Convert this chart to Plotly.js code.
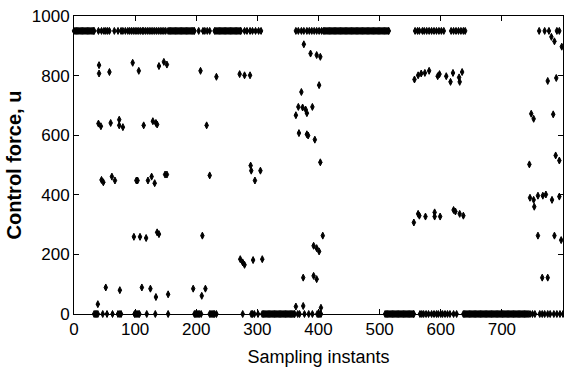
<!DOCTYPE html>
<html>
<head>
<meta charset="utf-8">
<script src="https://cdn.plot.ly/plotly-3.0.1.min.js"></script>
<style>html,body{margin:0;padding:0;background:#fff;}#chart{width:564px;height:378px;}</style>
</head>
<body>
<div id="chart"></div>
<script>
// Upper saturation level and lower level of the control force
const uHigh = 950;
const uLow = 0;

// Sampling instants where u sits at the upper level
const highX = [
  0,2,4,6,8,10,12,14,16,18,20,22,24,26,28,30,32,33,
  40,45,49,52,55,58,66,72,77,80,84,88,91,94,97,100,103,106,109,112,114,117,120,123,126,129,132,135,138,141,144,147,150,
  154,156,158,160,162,164,166,168,170,172,174,176,178,180,182,184,186,188,190,192,194,196,197,
  204,211,214,218,222,
  230,232,234,236,238,240,242,244,246,248,250,252,254,256,258,260,262,264,266,268,270,272,273,
  279,283,288,292,297,302,306,
  363,367,372,376,381,385,389,393,397,401,405,
  408,410,412,414,416,418,420,422,424,426,428,430,432,434,436,438,440,442,444,446,448,450,452,454,456,458,460,
  462,464,466,468,470,472,474,476,478,480,482,484,486,488,490,492,494,496,498,500,502,504,506,508,510,512,514,515,
  558,562,565,570,573,577,581,585,589,593,597,601,605,
  617,621,625,629,633,637,640,
  761,770,777,790,794
];

// Sampling instants where u sits at the lower level
const lowX = [
  33,35,37,39,47,54,63,72,75,77,99,101,103,105,107,119,133,154,
  197,199,201,203,205,208,222,224,226,228,230,233,
  276,290,292,295,301,
  308,310,312,314,316,318,320,322,324,326,328,330,332,334,336,338,340,342,344,346,348,350,352,354,356,358,360,361,
  366,369,377,384,390,398,400,402,404,
  509,511,513,515,517,519,521,523,525,527,529,531,533,535,537,539,541,543,545,547,549,551,553,555,556,
  566,569,572,576,580,585,589,593,596,600,603,607,611,615,621,626,
  637,639,641,643,645,647,649,651,653,655,657,659,661,663,665,667,669,671,673,675,677,679,681,683,685,687,689,
  691,693,695,697,699,701,703,705,707,709,711,713,715,717,719,721,723,725,727,729,731,733,735,737,739,741,743,
  746,750,754,762,766,770,775,779,785,790,795,800
];

// Intermediate control values: sampling instant and u
const midX = [
  41,41,58,96,106,139,147,152,207,233,271,279,288,
  40,44,60,74,74,80,114,129,134,136,217,
  45,48,62,67,102,104,121,127,132,149,152,222,
  98,108,118,136,139,210,
  52,75,111,125,134,154,195,209,215,39,
  272,276,279,293,308,
  289,290,305,296,
  403,407,392,397,401,375,392,397,363,375,404,
  376,387,397,403,401,372,367,374,379,381,390,363,368,381,383,394,
  557,563,568,574,581,595,598,609,616,620,630,631,635,
  556,563,565,575,590,590,599,621,624,631,637,
  775,789,748,752,784,745,788,794,
  746,752,759,767,772,753,782,794,
  759,786,797,766,775,781,786,798
];
const midU = [
  835,807,812,843,816,832,846,837,816,796,805,801,801,
  639,630,641,652,633,627,633,647,641,636,633,
  450,442,461,448,448,448,448,461,439,468,468,465,
  259,259,255,274,268,263,
  89,80,89,85,57,66,85,61,85,33,
  184,173,165,181,184,
  498,481,481,448,
  509,263,229,221,210,122,128,117,25,27,21,
  905,874,869,863,768,745,695,693,686,674,695,667,607,603,599,585,
  787,801,807,809,816,798,805,798,779,809,794,779,812,
  307,336,330,327,341,327,327,349,344,336,330,
  782,792,672,655,670,502,532,515,
  390,383,397,397,401,360,383,394,
  263,263,248,122,122,930,915,897
];

const xTicks = [0,100,200,300,400,500,600,700];
const yTicks = [0,200,400,600,800,1000];

const marker = {symbol:'diamond-tall', size:5, color:'#000', line:{color:'#000', width:1}};
const base = {type:'scatter', mode:'markers', marker:marker, cliponaxis:false, hoverinfo:'skip'};

const traces = [
  Object.assign({}, base, {x:highX, y:highX.map(() => uHigh)}),
  Object.assign({}, base, {x:lowX, y:lowX.map(() => uLow)}),
  Object.assign({}, base, {x:midX, y:midU})
];

const tickFont = {family:'"Liberation Sans Narrow", "Liberation Sans", Arial, sans-serif', size:17, color:'#000'};
const axisCommon = {
  showgrid:false, zeroline:false, showline:true, linecolor:'#000', linewidth:1,
  mirror:'ticks', ticks:'inside', ticklen:5, tickwidth:1, tickcolor:'#000',
  tickfont:tickFont
};

const layout = {
  width:564, height:378,
  margin:{l:74, r:1, t:16, b:64, pad:0},
  paper_bgcolor:'#fff', plot_bgcolor:'#fff',
  showlegend:false,
  xaxis:Object.assign({}, axisCommon, {
    range:[0,800], tickvals:xTicks, ticktext:xTicks.map(String),
    title:{text:'Sampling instants', standoff:11,
      font:{family:'"Liberation Sans", Arial, sans-serif', size:18, color:'#000'}}
  }),
  yaxis:Object.assign({}, axisCommon, {
    range:[0,1000], tickvals:yTicks, ticktext:yTicks.map(String),
    title:{text:'<b>Control force, u</b>', standoff:4,
      font:{family:'"Liberation Sans", Arial, sans-serif', size:20, color:'#000'}}
  })
};

Plotly.newPlot('chart', traces, layout, {staticPlot:true, displayModeBar:false});
</script>
</body>
</html>
